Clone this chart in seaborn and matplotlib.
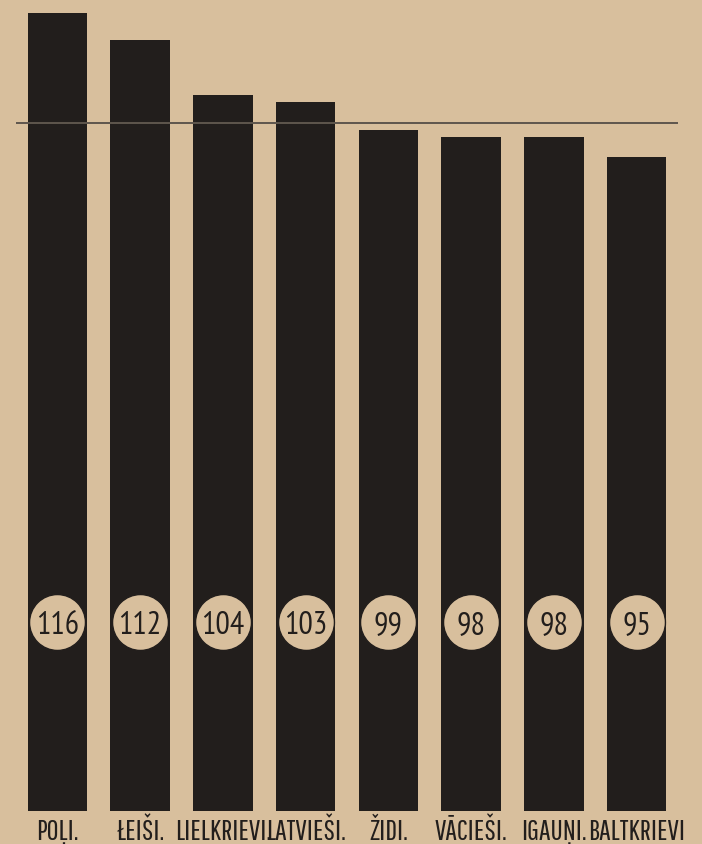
import matplotlib
matplotlib.use("Agg")
import matplotlib.pyplot as plt
from matplotlib import font_manager as fm
import seaborn as sns
import pandas as pd

categories = ["POĻI.", "ŁEIŠI.", "LIELKRIEVI.", "LATVIEŠI.", "ŽIDI.", "VĀCIEŠI.", "IGAUŅI.", "BALTKRIEVI"]
values = [116, 112, 104, 103, 99, 98, 98, 95]
reference_level = 100

BG = "#d8bf9d"
INK = "#221e1c"

available = {f.name for f in fm.fontManager.ttflist}
def pick(cands):
    return next((c for c in cands if c in available), "DejaVu Sans")
LABEL_FAMILY = [pick(["Pathway Gothic One", "PT Sans Narrow", "Archivo Narrow", "Roboto Condensed", "Oswald"]), "DejaVu Sans"]
DIGIT_FAMILY = [pick(["PT Sans Narrow", "Archivo Narrow", "Roboto Condensed", "Pathway Gothic One"]), "DejaVu Sans"]

sns.set_theme(style="white")
plt.rcParams['font.family'] = LABEL_FAMILY

df = pd.DataFrame({"group": categories, "value": values})

fig = plt.figure(figsize=(7.02, 8.45), dpi=100, facecolor=BG)
ax = fig.add_axes([16/702, (845-812)/845, (678-16)/702, 812/845])
ax.set_facecolor(BG)

sns.barplot(data=df, x="group", y="value", color=INK, width=0.72,
            saturation=1, linewidth=0, ax=ax, zorder=2)

ax.set_ylim(0, 812/6.88)
ax.set_xlim(-0.5, len(categories) - 0.5)
ax.axhline(reference_level, color="#5e564d", lw=1.4, zorder=3)

circle_y = (812 - 623) / 6.88
xs = list(range(len(values)))
ax.scatter(xs, [circle_y]*len(xs), s=1620, color=BG, edgecolor=INK, linewidth=1.0, zorder=4)
for x, v in zip(xs, values):
    ax.text(x, circle_y, str(v), ha="center", va="center_baseline", fontsize=23,
            color=INK, zorder=5, family=DIGIT_FAMILY)

for s in ax.spines.values():
    s.set_visible(False)
ax.set_yticks([])
ax.set_xlabel("")
ax.set_ylabel("")
ax.tick_params(axis="x", length=0, pad=20, labelsize=21, labelcolor=INK)
for t in ax.get_xticklabels():
    t.set_family(LABEL_FAMILY)
    t.set_verticalalignment("baseline")

fig.savefig("out.png", dpi=100, facecolor=BG)
